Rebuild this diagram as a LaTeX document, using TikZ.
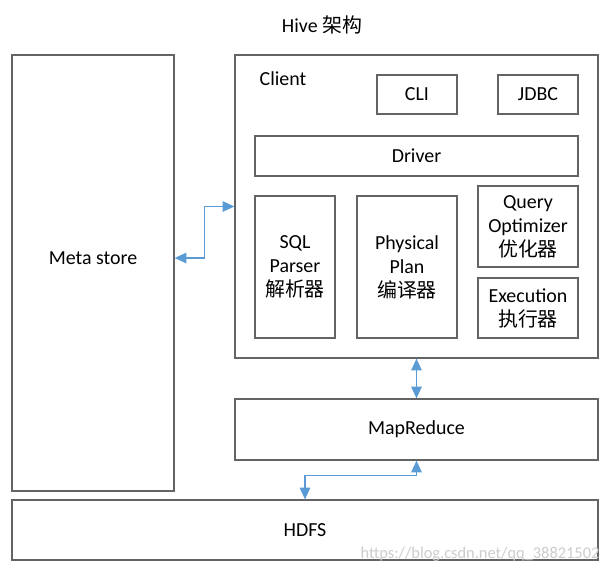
\documentclass[tikz,border=0pt]{standalone}
\usepackage{fontspec}
\setmainfont{Carlito}
\newfontfamily\cjk{Noto Sans CJK SC}
\usepackage{xcolor}
\usetikzlibrary{shapes,arrows,arrows.meta,positioning}

\definecolor{boxline}{RGB}{100,100,100}
\definecolor{linkblue}{RGB}{91,155,213}

\begin{document}
\begin{tikzpicture}[
    x=0.03cm, y=-0.03cm,
    font=\fontsize{17}{20.5}\selectfont,
    box/.style={rectangle, draw=boxline, line width=1.1pt, fill=white, align=center, inner sep=0pt},
    link/.style={{Triangle[width=9pt,length=10pt]}-{Triangle[width=9pt,length=10pt]}, draw=linkblue, line width=0.9pt}
]
    \useasboundingbox (0,0) rectangle (609,574);

    % Title
    \node (title) at (322,25) {Hive {\cjk 架构}};

    % Meta store
    \node[box, minimum width=4.86cm, minimum height=13.08cm] (meta) at (93,273) {};
    \node (metalbl) at (93,258) {Meta store};

    % Client with its parts
    \node[box, minimum width=10.89cm, minimum height=9.09cm] (client) at (416.5,206.5) {};
    \node (clientlbl) at (283,79) {Client};
    \node[box, minimum width=2.4cm, minimum height=1.17cm] (cli) at (417,94.5) {CLI};
    \node[box, minimum width=2.4cm, minimum height=1.17cm] (jdbc) at (538,94.5) {JDBC};
    \node[box, minimum width=9.69cm, minimum height=1.2cm] (driver) at (416.5,156) {Driver};
    \node[box, minimum width=2.4cm, minimum height=4.26cm] (sql) at (295,267) {SQL\\Parser\\{\cjk 解析器}};
    \node[box, minimum width=3cm, minimum height=4.26cm] (phys) at (407,267) {Physical\\Plan\\{\cjk 编译器}};
    \node[box, minimum width=3cm, minimum height=2.43cm] (qopt) at (528,226.5) {Query\\Optimizer\\{\cjk 优化器}};
    \node[box, minimum width=3cm, minimum height=1.8cm] (exec) at (528,308) {Execution\\{\cjk 执行器}};

    % MapReduce and HDFS
    \node[box, minimum width=10.89cm, minimum height=1.83cm] (mr) at (416.5,429.5) {MapReduce};
    \node[box, minimum width=17.58cm, minimum height=1.8cm] (hdfs) at (305,530) {HDFS};

    % Arrows
    \draw[link] ([yshift=0.45cm]meta.east) -- ++(30,0) |- (client.west);
    \draw[link] (client.south) -- (mr.north);
    \draw[link] (mr.south) -- ++(0,15) -| (hdfs.north);

    % watermark
    \node[text=gray!40, font=\fontsize{14}{16}\selectfont] (mark) at (480,554) {https://blog.csdn.net/qq\_38821502};

\end{tikzpicture}
\end{document}
